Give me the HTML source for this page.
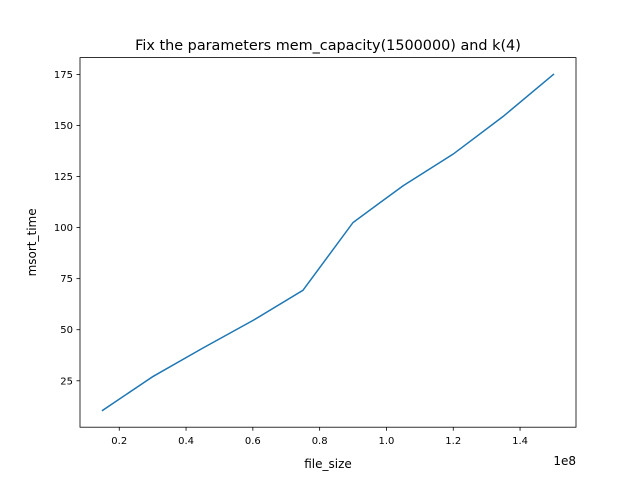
<!DOCTYPE html>
<html><head><meta charset="utf-8"><style>
body{margin:0;background:#fff;}
text{font-family:"DejaVu Sans","Liberation Sans",sans-serif;fill:#000;}
</style></head><body>
<svg id="chart" width="640" height="480" xmlns="http://www.w3.org/2000/svg">
<rect width="640" height="480" fill="#fff"/>
<text x="328" y="50" font-size="14.4" text-anchor="middle">Fix the parameters mem_capacity(1500000) and k(4)</text>
<g id="axes"></g>
<rect x="80" y="57.6" width="496" height="369.6" fill="none" stroke="#000" stroke-width="0.8"/>
<text x="328" y="468" font-size="12" text-anchor="middle">file_size</text>
<text x="0" y="0" font-size="12" text-anchor="middle" transform="translate(36,242.4) rotate(-90)">msort_time</text>
<text x="576" y="465" font-size="12" text-anchor="end">1e8</text>
</svg>
<script>
const xValues=[0.15,0.3,0.45,0.6,0.75,0.9,1.05,1.2,1.35,1.5];
const yValues=[10.5,27,41,54.5,69.3,102.5,120.5,136,154.5,175];
const xTicks=[0.2,0.4,0.6,0.8,1.0,1.2,1.4];
const yTicks=[25,50,75,100,125,150,175];
const L=80,R=576,T=57.6,B=427.2;
const xmin=Math.min(...xValues),xmax=Math.max(...xValues),ymin=Math.min(...yValues),ymax=Math.max(...yValues);
const x0=xmin-(xmax-xmin)*0.05,x1=xmax+(xmax-xmin)*0.05,y0=ymin-(ymax-ymin)*0.05,y1=ymax+(ymax-ymin)*0.05;
const sx=v=>L+(v-x0)/(x1-x0)*(R-L);
const sy=v=>B-(v-y0)/(y1-y0)*(B-T);
const ns="http://www.w3.org/2000/svg";
const g=document.getElementById('axes');
function mk(t,a){const e=document.createElementNS(ns,t);for(const k in a)e.setAttribute(k,a[k]);g.appendChild(e);return e;}
xTicks.forEach(v=>{
 const l=mk('line',{x1:sx(v),x2:sx(v),y1:B,y2:B+3.5,stroke:'#000','stroke-width':0.8});
 
 
 const t=mk('text',{x:sx(v),y:B+17,'font-size':10,'text-anchor':'middle'});
 t.textContent=v.toFixed(1);
 
 
});
yTicks.forEach(v=>{
 const l=mk('line',{x1:L-3.5,x2:L,y1:sy(v),y2:sy(v),stroke:'#000','stroke-width':0.8});
 
 
 const t=mk('text',{x:L-7,y:sy(v)+3.5,'font-size':10,'text-anchor':'end'});
 t.textContent=v;
 
 
});
const p=mk('polyline',{points:xValues.map((v,i)=>sx(v)+','+sy(yValues[i])).join(' '),fill:'none',stroke:'#1f77b4','stroke-width':1.5,'stroke-linecap':'square'});


</script>
</body></html>
